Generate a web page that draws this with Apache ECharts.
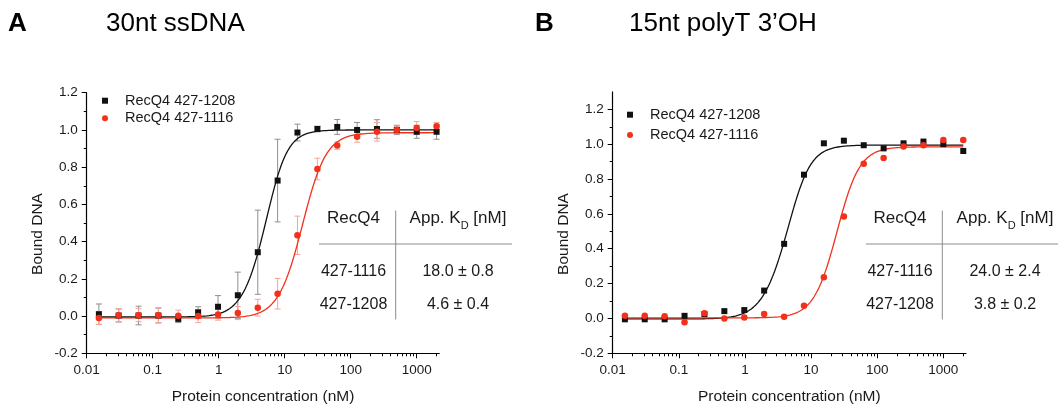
<!DOCTYPE html>
<html>
<head>
<meta charset="utf-8">
<script src="https://cdn.jsdelivr.net/npm/echarts@6/dist/echarts.min.js"></script>
<style>
  html, body { margin: 0; padding: 0; background: #fff; }
  #chart { width: 1058px; height: 405px; }
</style>
</head>
<body>
<div id="chart"></div>
<script>
// Twofold protein dilution series (nM)
const concentrations = [0.0153, 0.0305, 0.061, 0.122, 0.244, 0.488, 0.977, 1.95, 3.91, 7.81,
                        15.6, 31.3, 62.5, 125, 250, 500, 1000, 2000];
const seriesNames = ['RecQ4 427-1208', 'RecQ4 427-1116'];

// 30nt ssDNA: mean bound fraction and standard deviation
const ssBound1208 = [0.01, 0.003, 0.003, 0.003, -0.015, 0.02, 0.05, 0.112, 0.343, 0.728,
                     0.986, 1.005, 1.016, 1.0, 1.005, 1.0, 0.99, 0.99];
const ssErr1208   = [0.055, 0.035, 0.05, 0.04, 0.02, 0.03, 0.06, 0.124, 0.226, 0.222,
                     0.045, 0.015, 0.04, 0.04, 0.05, 0.025, 0.035, 0.04];
const ssBound1116 = [-0.01, 0.005, 0.005, 0.005, 0.002, 0.0, 0.008, 0.016, 0.045, 0.12,
                     0.434, 0.79, 0.916, 0.964, 0.99, 1.0, 1.01, 1.02];
const ssErr1116   = [0.035, 0.035, 0.035, 0.04, 0.03, 0.035, 0.03, 0.035, 0.045, 0.082,
                     0.103, 0.058, 0.02, 0.03, 0.05, 0.02, 0.035, 0.02];

// 15nt polyT 3'OH: bound fraction
const polyBound1208 = [-0.005, -0.005, -0.005, 0.015, 0.025, 0.042, 0.048, 0.16, 0.428, 0.825,
                       1.005, 1.02, 0.994, 0.976, 1.005, 1.015, 1.0, 0.961];
const polyBound1116 = [0.015, 0.015, 0.012, -0.022, 0.03, 0.0, 0.005, 0.025, 0.01, 0.073,
                       0.237, 0.585, 0.887, 0.921, 0.986, 0.994, 1.024, 1.024];

// Hill fits, rows in table order (427-1116, 427-1208)
const tableConstructs = ['427-1116', '427-1208'];
const ssKd      = [18.0, 4.6];
const ssKdErr   = [0.8, 0.4];
const ssHill    = [2.4, 2.6];
const ssBase    = [-0.01, -0.005];
const ssTop     = [0.985, 1.0];
const polyKd    = [24.0, 3.8];
const polyKdErr = [2.4, 0.2];
const polyHill  = [2.5, 2.4];
const polyBase  = [0.003, -0.003];
const polyTop   = [0.985, 0.995];
const dnaNm = 1; // labelled DNA in each titration (nM)

// Axis ticks
const xTickValues = [0.01, 0.1, 1, 10, 100, 1000];
const xTickLabels = ['0.01', '0.1', '1', '10', '100', '1000'];
const yTickValues = [-0.2, 0, 0.2, 0.4, 0.6, 0.8, 1.0, 1.2];
const yMinorValues = [-0.1, 0.1, 0.3, 0.5, 0.7, 0.9, 1.1];
const xMinorValues = [];
for (let e = -2; e <= 3; e++) {
  for (let m = 2; m <= 9; m++) {
    const v = m * Math.pow(10, e);
    if (v <= 2200) xMinorValues.push(v);
  }
}

const FONT = 'Liberation Sans, Arial, Helvetica, sans-serif';
const BLACK = '#111111';
const RED = '#f2301b';
const TEXT = '#1a1a1a';

// Fraction of DNA bound (Hill binding with protein depletion by the DNA)
function boundFraction(p, kd, n) {
  let lo = 0, hi = 1;
  for (let k = 0; k < 50; k++) {
    const f = (lo + hi) / 2;
    const free = Math.max(p - dnaNm * f, 0);
    const h = Math.pow(free, n) / (Math.pow(kd, n) + Math.pow(free, n));
    if (f > h) hi = f; else lo = f;
  }
  return (lo + hi) / 2;
}

function fitCurve(kd, n, base, top) {
  const pts = [];
  const a = Math.log10(concentrations[0]);
  const b = Math.log10(concentrations[concentrations.length - 1]);
  const steps = 300;
  for (let i = 0; i <= steps; i++) {
    const p = Math.pow(10, a + (b - a) * i / steps);
    pts.push([p, base + (top - base) * boundFraction(p, kd, n)]);
  }
  return pts;
}

function pairs(values) {
  return concentrations.map((c, i) => [c, values[i]]);
}

function scatter(name, axis, values, symbol, size, color, z) {
  return {
    type: 'scatter', name, xAxisIndex: axis, yAxisIndex: axis,
    data: pairs(values), symbol, symbolSize: size,
    itemStyle: { color, opacity: 1 }, z, silent: true
  };
}

function fitLine(name, axis, kd, n, base, top, color) {
  return {
    type: 'line', name, xAxisIndex: axis, yAxisIndex: axis,
    data: fitCurve(kd, n, base, top), showSymbol: false, symbol: 'none',
    lineStyle: { color, width: 1.3 }, z: 2, silent: true
  };
}

function errorBars(name, axis, values, errs, color) {
  return {
    type: 'custom', name, xAxisIndex: axis, yAxisIndex: axis, z: 1, silent: true,
    data: concentrations.map((c, i) => [c, values[i] - errs[i], values[i] + errs[i]]),
    encode: { x: 0, y: [1, 2] },
    renderItem(params, api) {
      const lo = api.coord([api.value(0), api.value(1)]);
      const hi = api.coord([api.value(0), api.value(2)]);
      const w = 3;
      const st = { stroke: color, lineWidth: 1 };
      return {
        type: 'group',
        children: [
          { type: 'line', shape: { x1: lo[0], y1: lo[1], x2: hi[0], y2: hi[1] }, style: st },
          { type: 'line', shape: { x1: lo[0] - w, y1: lo[1], x2: lo[0] + w, y2: lo[1] }, style: st },
          { type: 'line', shape: { x1: hi[0] - w, y1: hi[1], x2: hi[0] + w, y2: hi[1] }, style: st }
        ]
      };
    }
  };
}

function xAxes(grid) {
  return [
    {
      type: 'log', logBase: 10, gridIndex: grid, min: 0.01, max: 2200, position: 'bottom',
      name: 'Protein concentration (nM)', nameLocation: 'middle', nameGap: 35,
      nameTextStyle: { fontFamily: FONT, fontSize: 15.5, color: TEXT },
      axisLine: { show: true, onZero: false, lineStyle: { color: '#000', width: 1.2 } },
      axisTick: { show: true, customValues: xTickValues, length: 5, lineStyle: { color: '#000', width: 1 } },
      axisLabel: {
        customValues: xTickValues, margin: 10, fontFamily: FONT, fontSize: 13.5, color: TEXT,
        formatter: v => xTickLabels[Math.round(Math.log10(v)) + 2]
      },
      splitLine: { show: false }, minorTick: { show: false }
    },
    {
      type: 'log', logBase: 10, gridIndex: grid, min: 0.01, max: 2200, position: 'bottom',
      axisLine: { show: false, onZero: false },
      axisTick: { show: true, customValues: xMinorValues, length: 3, lineStyle: { color: '#000', width: 1 } },
      axisLabel: { show: false },
      splitLine: { show: false }
    }
  ];
}

function yAxes(grid, max) {
  return [
    {
      type: 'value', gridIndex: grid, min: -0.2, max, interval: 0.2, position: 'left',
      axisLine: { show: true, onZero: false, lineStyle: { color: '#000', width: 1.2 } },
      axisTick: { show: true, customValues: yTickValues, length: 5, lineStyle: { color: '#000', width: 1 } },
      axisLabel: {
        customValues: yTickValues, margin: 9, fontFamily: FONT, fontSize: 13.5, color: TEXT,
        formatter: v => v.toFixed(1)
      },
      splitLine: { show: false }
    },
    {
      type: 'value', gridIndex: grid, min: -0.2, max, position: 'left',
      axisLine: { show: false, onZero: false },
      axisTick: { show: true, customValues: yMinorValues, length: 3, lineStyle: { color: '#000', width: 1 } },
      axisLabel: { show: false },
      splitLine: { show: false }
    }
  ];
}

function kdTable(c1, c2, left, right, vx, kd, kdErr) {
  const cell = (x, y, text, size) => ({
    type: 'text', x, y, silent: true,
    style: {
      text, fill: TEXT, fontFamily: FONT, fontSize: size,
      textAlign: 'center', align: 'center', textVerticalAlign: 'middle', verticalAlign: 'middle'
    }
  });
  const children = [
    { type: 'line', silent: true, shape: { x1: left, y1: 244, x2: right, y2: 244 },
      style: { stroke: '#8c8c8c', lineWidth: 1 } },
    { type: 'line', silent: true, shape: { x1: vx, y1: 210.5, x2: vx, y2: 319.5 },
      style: { stroke: '#8c8c8c', lineWidth: 1 } },
    cell(c1, 218.5, 'RecQ4', 17),
    {
      type: 'text', x: c2, y: 218.5, silent: true,
      style: {
        text: '{m|App. K}{s|D}{m| [nM]}',
        textAlign: 'center', align: 'center', textVerticalAlign: 'middle', verticalAlign: 'middle',
        rich: {
          m: { fontFamily: FONT, fontSize: 17, fill: TEXT, color: TEXT, lineHeight: 20 },
          s: { fontFamily: FONT, fontSize: 11, fill: TEXT, color: TEXT, lineHeight: 20,
               verticalAlign: 'bottom', padding: [0, 0, -3, 0] }
        }
      }
    }
  ];
  const rowY = [271.7, 305];
  tableConstructs.forEach((name, i) => {
    children.push(cell(c1, rowY[i], name, 16));
    children.push(cell(c2, rowY[i], kd[i].toFixed(1) + ' \u00b1 ' + kdErr[i].toFixed(1), 16));
  });
  return { type: 'group', children };
}

function heading(x, text, bold) {
  return {
    type: 'text', x, y: 24, silent: true,
    style: {
      text, fill: '#000', fontFamily: FONT, fontSize: 26, fontWeight: bold ? 'bold' : 'normal',
      textAlign: 'left', align: 'left', textVerticalAlign: 'middle', verticalAlign: 'middle'
    }
  };
}

function yTitle(x) {
  return {
    type: 'text', x, y: 234, rotation: Math.PI / 2, silent: true,
    style: {
      text: 'Bound DNA', fill: TEXT, fontFamily: FONT, fontSize: 15.5,
      textAlign: 'center', align: 'center', textVerticalAlign: 'middle', verticalAlign: 'middle'
    }
  };
}

function legend(left, top, gap) {
  return {
    left, top, orient: 'vertical', padding: 0, itemGap: gap,
    itemWidth: 6, itemHeight: 6, selectedMode: false,
    data: seriesNames,
    textStyle: { fontFamily: FONT, fontSize: 14.5, color: TEXT, lineHeight: 16, padding: [0, 0, 0, 12] }
  };
}

const chart = echarts.init(document.getElementById('chart'), null, { renderer: 'canvas' });

chart.setOption({
  animation: false,
  backgroundColor: '#fff',
  grid: [
    { left: 86.7, top: 92.7, width: 352.6, height: 260.6, outerBoundsMode: 'none' },
    { left: 612.7, top: 91.9, width: 353.3, height: 261.4, outerBoundsMode: 'none' }
  ],
  xAxis: [...xAxes(0), ...xAxes(1)],
  yAxis: [...yAxes(0, 1.2), ...yAxes(1, 1.3)],
  legend: [legend(102, 92.7, 1.6), legend(627, 106.7, 4.3)],
  series: [
    // 30nt ssDNA
    errorBars('err A 1208', 0, ssBound1208, ssErr1208, '#8f8f8f'),
    errorBars('err A 1116', 0, ssBound1116, ssErr1116, '#f5a497'),
    fitLine('fit A 1208', 0, ssKd[1], ssHill[1], ssBase[1], ssTop[1], BLACK),
    fitLine('fit A 1116', 0, ssKd[0], ssHill[0], ssBase[0], ssTop[0], RED),
    scatter(seriesNames[0], 0, ssBound1208, 'rect', 6, BLACK, 3),
    scatter(seriesNames[1], 0, ssBound1116, 'circle', 6.5, RED, 4),
    // 15nt polyT 3'OH
    fitLine('fit B 1208', 2, polyKd[1], polyHill[1], polyBase[1], polyTop[1], BLACK),
    fitLine('fit B 1116', 2, polyKd[0], polyHill[0], polyBase[0], polyTop[0], RED),
    scatter(seriesNames[0], 2, polyBound1208, 'rect', 6, BLACK, 3),
    scatter(seriesNames[1], 2, polyBound1116, 'circle', 6.5, RED, 4)
  ],
  graphic: [
    heading(8, 'A', true),
    heading(106, '30nt ssDNA', false),
    heading(535, 'B', true),
    heading(629, '15nt polyT 3\u2019OH', false),
    yTitle(38),
    yTitle(564),
    kdTable(353.5, 458, 319, 512, 395.7, ssKd, ssKdErr),
    kdTable(900, 1005, 866, 1058, 942.3, polyKd, polyKdErr)
  ]
});
</script>
</body>
</html>
